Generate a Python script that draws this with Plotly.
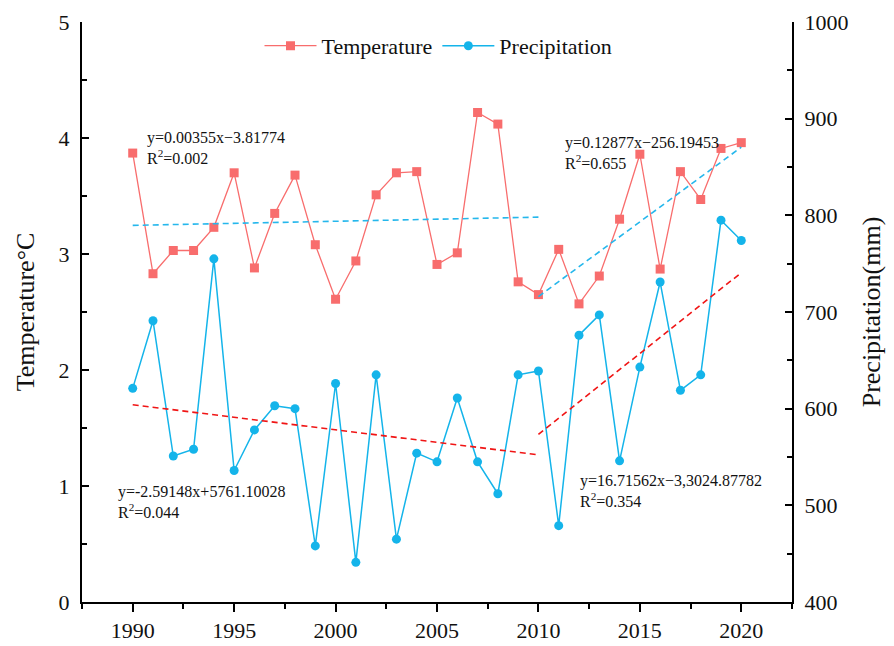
import plotly.graph_objects as go

# Annual series, 1990-2020
years = list(range(1990, 2021))
temperature = [3.87, 2.83, 3.03, 3.03, 3.23, 3.70, 2.88, 3.35, 3.68, 3.08,
               2.61, 2.94, 3.51, 3.70, 3.71, 2.91, 3.01, 4.22, 4.12, 2.76,
               2.65, 3.04, 2.57, 2.81, 3.30, 3.86, 2.87, 3.71, 3.47, 3.91,
               3.96]
precipitation = [621, 691, 551, 558, 755, 536, 578, 603, 600, 458,
                 626, 441, 635, 465, 554, 545, 611, 545, 512, 635,
                 639, 479, 676, 697, 546, 643, 731, 619, 635, 795,
                 774]

# Linear fits (slope, intercept) over two periods
temp_fit_early = (0.00355, -3.81774)
temp_fit_late = (0.12877, -256.19453)
prec_fit_early = (-2.59148, 5761.10028)
prec_fit_late = (16.71562, -33024.87782)
early_span = [1990, 2010]
late_span = [2010, 2020]

fit_labels = [
    "y=0.00355x\u22123.81774<br>R<sup>2</sup>=0.002",
    "y=0.12877x\u2212256.19453<br>R<sup>2</sup>=0.655",
    "y=-2.59148x+5761.10028<br>R<sup>2</sup>=0.044",
    "y=16.71562x\u22123,3024.87782<br>R<sup>2</sup>=0.354",
]

TEMP_C = "#F86D6D"
PREC_C = "#14B4EA"
TREND_RED = "#F01515"
TREND_BLUE = "#25B7EC"
FONT = "Liberation Serif"


def line_of(fit, span):
    return [fit[0] * x + fit[1] for x in span]


fig = go.Figure()

fig.add_trace(go.Scatter(
    x=years, y=temperature, name="Temperature", mode="lines+markers",
    line=dict(color=TEMP_C, width=1.3),
    marker=dict(symbol="square", size=9, color=TEMP_C),
    yaxis="y",
))
fig.add_trace(go.Scatter(
    x=years, y=precipitation, name="Precipitation", mode="lines+markers",
    line=dict(color=PREC_C, width=1.5),
    marker=dict(symbol="circle", size=9, color=PREC_C),
    yaxis="y2",
))

# trend lines
for fit, span, color, axis in [
    (temp_fit_early, early_span, TREND_BLUE, "y"),
    (temp_fit_late, late_span, TREND_BLUE, "y"),
    (prec_fit_early, early_span, TREND_RED, "y2"),
    (prec_fit_late, late_span, TREND_RED, "y2"),
]:
    fig.add_trace(go.Scatter(
        x=span, y=line_of(fit, span), mode="lines", showlegend=False,
        line=dict(color=color, width=1.6, dash="6px,4px"), yaxis=axis,
        hoverinfo="skip",
    ))

# fit equations
label_pos = [(1990.6, 3.91, "y"), (2011.2, 3.87, "y"),
             (1989.2, 0.86, "y"), (2011.95, 0.96, "y")]
for text, (ax, ay, yr) in zip(fit_labels, label_pos):
    fig.add_annotation(
        x=ax, y=ay, xref="x", yref=yr, text=text, showarrow=False,
        xanchor="left", yanchor="middle", align="left",
        font=dict(family=FONT, size=16, color="#111111"),
    )

axis_common = dict(
    showline=True, linecolor="black", linewidth=2, showgrid=False,
    zeroline=False, tickcolor="black", tickwidth=2, automargin=False,
    tickfont=dict(family=FONT, size=22, color="#111111"),
)

fig.update_layout(
    width=894, height=646,
    margin=dict(l=82, r=102, t=22, b=44),
    plot_bgcolor="white", paper_bgcolor="white",
    font=dict(family=FONT, color="#111111"),
    legend=dict(
        orientation="h", x=0.25, y=0.995, xanchor="left", yanchor="top",
        font=dict(family=FONT, size=22), bgcolor="rgba(0,0,0,0)",
        itemwidth=52,
    ),
    xaxis=dict(
        range=[1987.5, 2022.5], dtick=5, tick0=1990,
        ticks="outside", ticklen=8,
        minor=dict(dtick=2.5, tick0=1987.5, ticks="outside", ticklen=5,
                   tickcolor="black", tickwidth=2),
        **axis_common,
    ),
    yaxis=dict(
        range=[0, 5], dtick=1, ticks="inside", ticklen=7,
        minor=dict(dtick=0.5, ticks="inside", ticklen=5,
                   tickcolor="black", tickwidth=2),
        title=dict(text="Temperature\u00b0C",
                   font=dict(family=FONT, size=26), standoff=16),
        ticklabelstandoff=6,
        **axis_common,
    ),
    yaxis2=dict(
        range=[400, 1000], dtick=100, ticks="inside", ticklen=7,
        overlaying="y", side="right",
        minor=dict(dtick=50, ticks="inside", ticklen=5,
                   tickcolor="black", tickwidth=2),
        title=dict(text="Precipitation(mm)",
                   font=dict(family=FONT, size=26), standoff=14),
        ticklabelstandoff=6,
        **axis_common,
    ),
)

fig.write_html("out.html")
